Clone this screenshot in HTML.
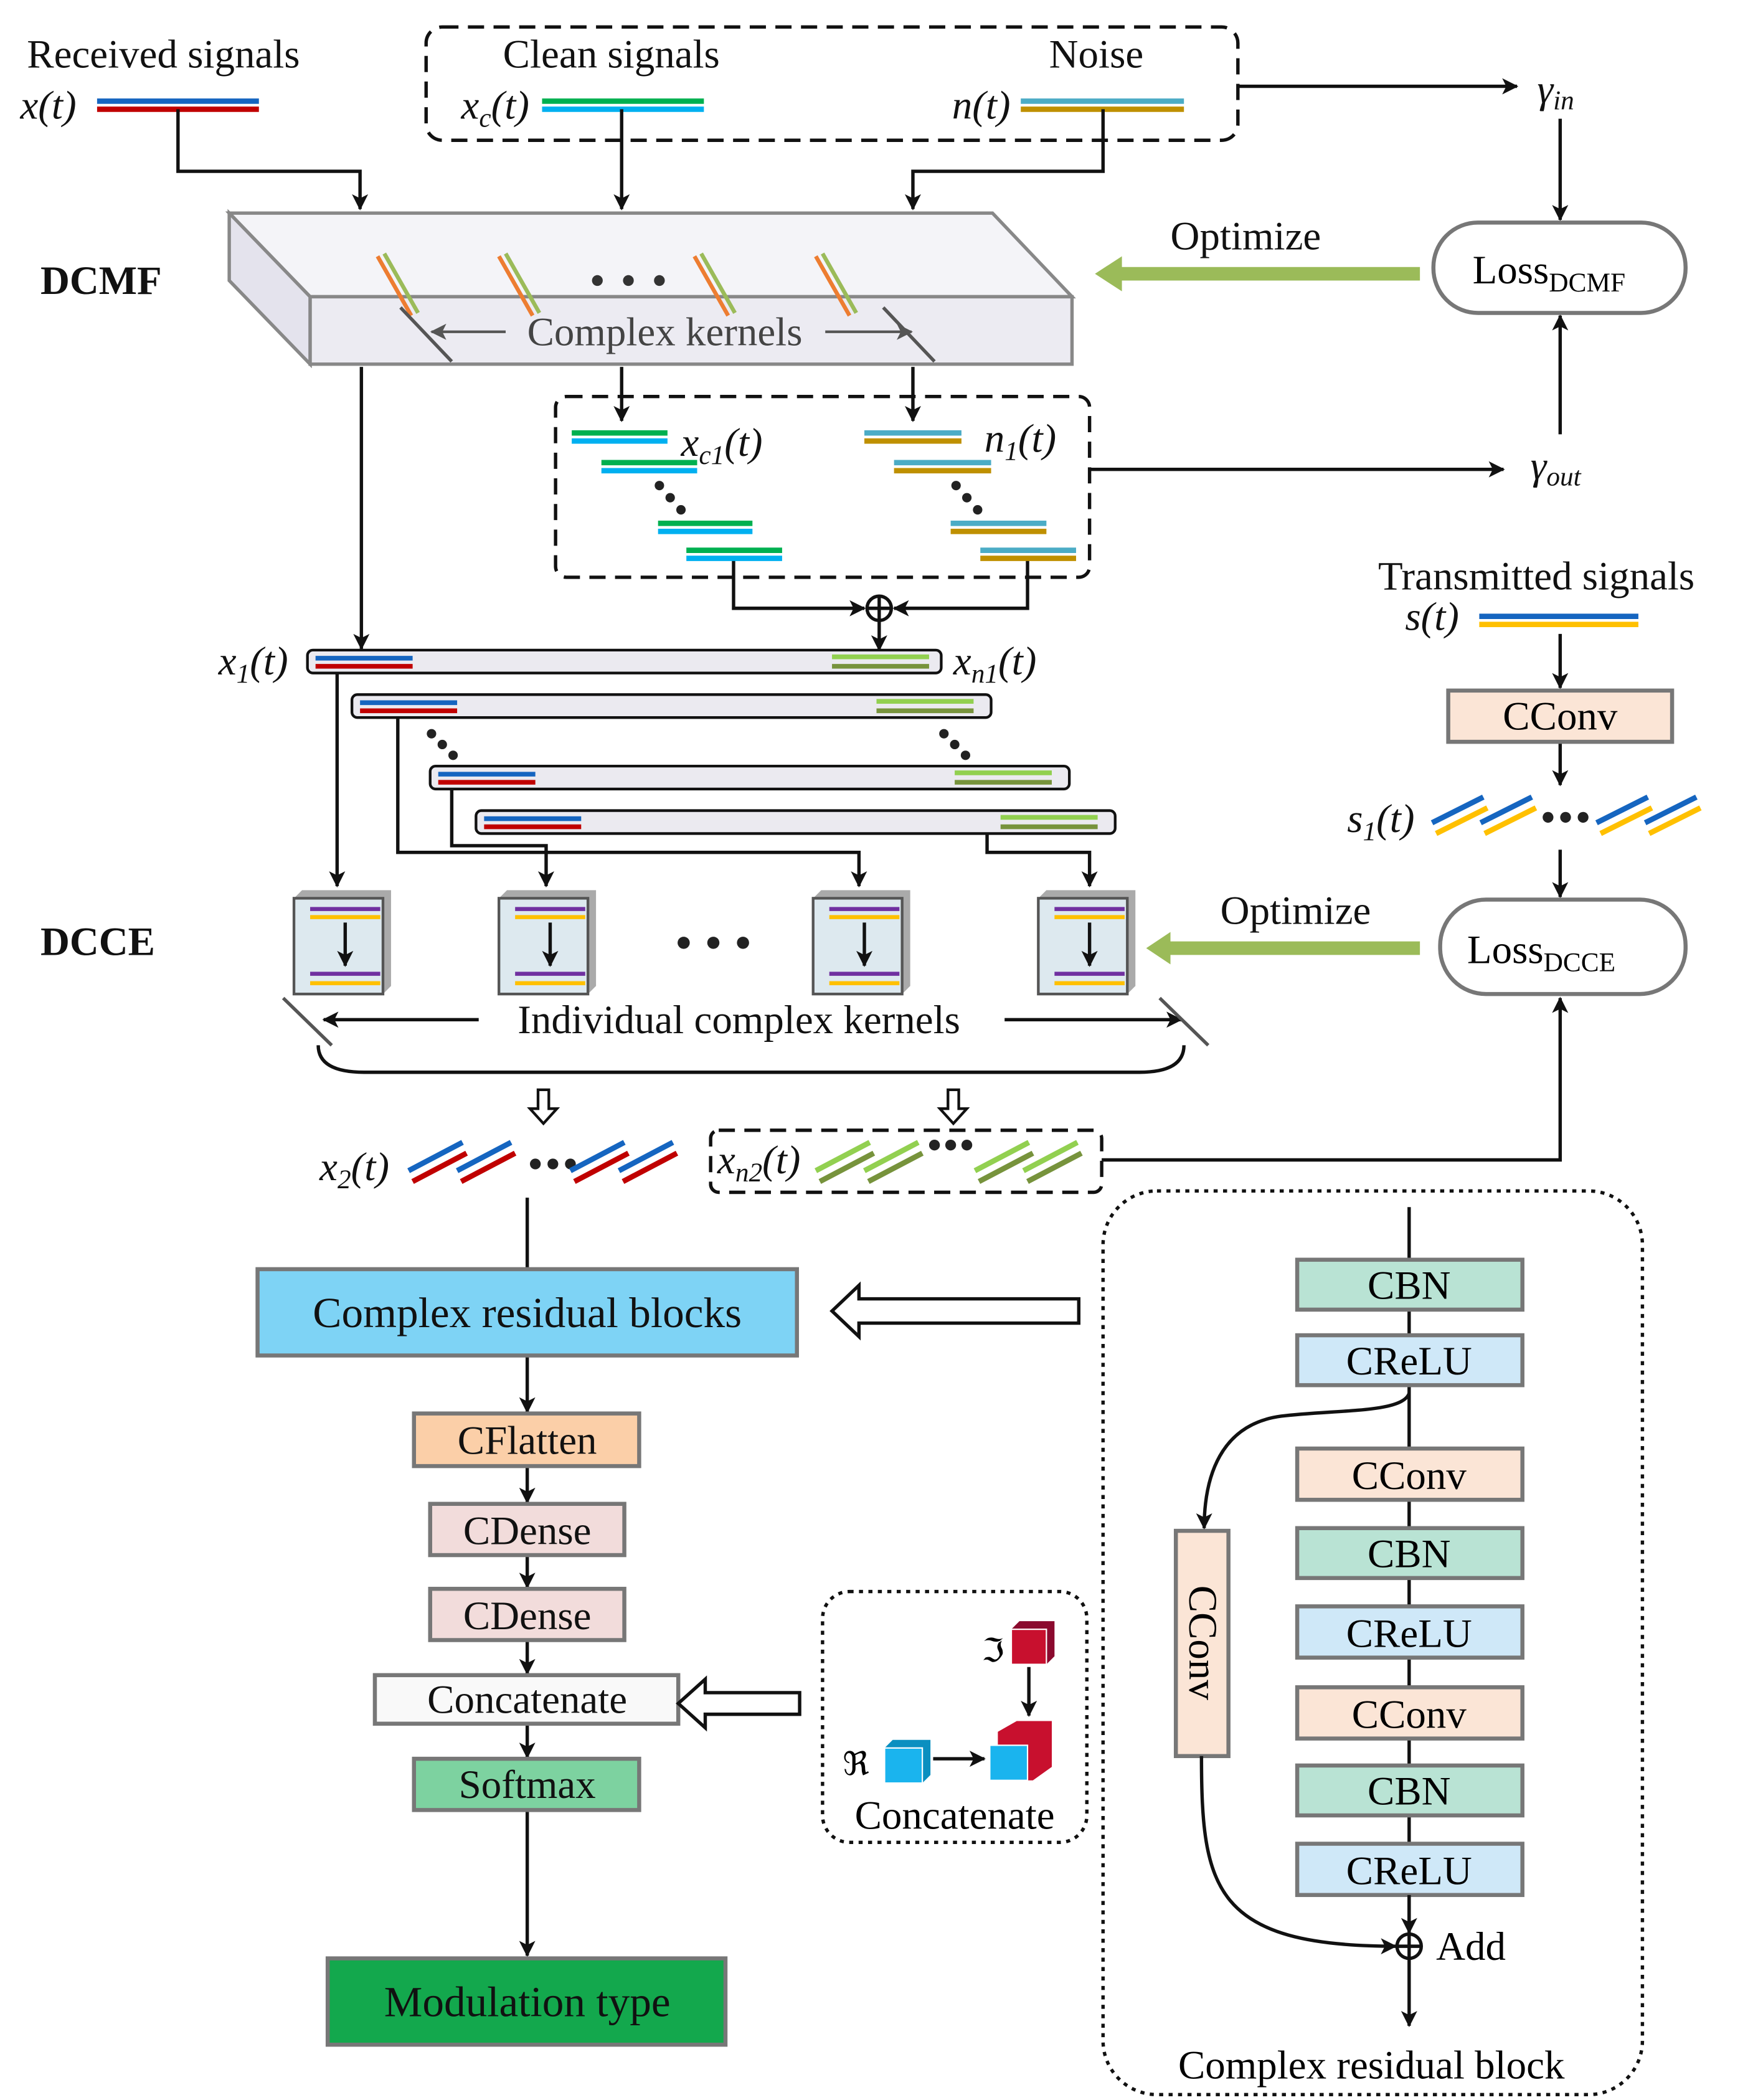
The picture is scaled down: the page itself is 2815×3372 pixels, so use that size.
<!DOCTYPE html>
<html><head><meta charset="utf-8"><style>html,body{margin:0;padding:0;background:#fff}svg{display:block}svg text{font-family:"Liberation Serif",serif}</style></head><body>
<svg xmlns="http://www.w3.org/2000/svg" width="2815" height="3372" viewBox="0 0 1300 1557" preserveAspectRatio="none" font-family="'Liberation Serif', serif">
<defs>
<marker id="a" markerWidth="12" markerHeight="12" refX="11" refY="6" orient="auto" markerUnits="userSpaceOnUse"><path d="M0,0 L12,6 L0,12 L3,6z" fill="#111"/></marker>
<marker id="g" markerWidth="12" markerHeight="12" refX="11" refY="6" orient="auto" markerUnits="userSpaceOnUse"><path d="M0,0 L12,6 L0,12 L3,6z" fill="#555"/></marker>
</defs>
<g font-size="30" fill="#111">
<text x="20" y="50">Received signals</text>
<text x="15" y="88" font-style="italic">x(t)</text>
<text x="373" y="50">Clean signals</text>
<text x="778" y="50">Noise</text>
<text x="342" y="88" font-style="italic">x<tspan font-size="20" dy="6">c</tspan><tspan dy="-6">(t)</tspan></text>
<text x="706" y="88" font-style="italic">n(t)</text>
<text x="30" y="218" font-weight="bold">DCMF</text>
<text x="30" y="708" font-weight="bold">DCCE</text>
<text x="868" y="185">Optimize</text>
<text x="905" y="685">Optimize</text>
<text x="1140" y="76" font-style="italic">γ<tspan font-size="20" dy="5">in</tspan></text>
<text x="1135" y="355" font-style="italic">γ<tspan font-size="20" dy="5">out</tspan></text>
<text x="1022" y="437">Transmitted signals</text>
<text x="1042" y="467" font-style="italic">s(t)</text>
<text x="999" y="617" font-style="italic">s<tspan font-size="20" dy="6">1</tspan><tspan dy="-6">(t)</tspan></text>
<text x="505" y="338" font-style="italic">x<tspan font-size="20" dy="6">c1</tspan><tspan dy="-6">(t)</tspan></text>
<text x="730" y="335" font-style="italic">n<tspan font-size="20" dy="6">1</tspan><tspan dy="-6">(t)</tspan></text>
<text x="162" y="500" font-style="italic">x<tspan font-size="20" dy="6">1</tspan><tspan dy="-6">(t)</tspan></text>
<text x="707" y="500" font-style="italic">x<tspan font-size="20" dy="6">n1</tspan><tspan dy="-6">(t)</tspan></text>
<text x="237" y="875" font-style="italic">x<tspan font-size="20" dy="6">2</tspan><tspan dy="-6">(t)</tspan></text>
<text x="532" y="870" font-style="italic">x<tspan font-size="20" dy="6">n2</tspan><tspan dy="-6">(t)</tspan></text>
</g>
<g stroke-width="4">
<line x1="72" y1="75" x2="192" y2="75" stroke="#1565c0"/><line x1="72" y1="81" x2="192" y2="81" stroke="#c00000"/>
<line x1="402" y1="75" x2="522" y2="75" stroke="#00b050"/><line x1="402" y1="81" x2="522" y2="81" stroke="#00b0f0"/>
<line x1="757" y1="75" x2="878" y2="75" stroke="#4bacc6"/><line x1="757" y1="81" x2="878" y2="81" stroke="#bf9000"/>
<line x1="1097" y1="457" x2="1215" y2="457" stroke="#1565c0"/><line x1="1097" y1="463" x2="1215" y2="463" stroke="#ffc000"/>
</g>
<rect x="316" y="20" width="602" height="84" rx="12" fill="none" stroke="#111" stroke-width="2.5" stroke-dasharray="12,7"/>
<g stroke="#111" stroke-width="2.5" fill="none" marker-end="url(#a)">
<polyline points="132,81 132,127 267,127 267,155"/>
<line x1="461" y1="81" x2="461" y2="155"/>
<polyline points="818,81 818,127 677,127 677,155"/>
<polyline points="918,64 1125,64"/>
<line x1="1157" y1="88" x2="1157" y2="163"/>
<line x1="1157" y1="322" x2="1157" y2="234"/>
<line x1="808" y1="348" x2="1115" y2="348"/>
<line x1="461" y1="272" x2="461" y2="312"/>
<line x1="677" y1="272" x2="677" y2="312"/>
<line x1="268" y1="272" x2="268" y2="481"/>
<polyline points="544,414 544,451 641,451"/>
<polyline points="762,414 762,451 663,451"/>
<line x1="652" y1="460" x2="652" y2="482"/>
<line x1="1157" y1="470" x2="1157" y2="510"/>
<line x1="1157" y1="550" x2="1157" y2="582"/>
<line x1="1157" y1="630" x2="1157" y2="665"/>
<polyline points="817,860 1157,860 1157,740"/>
<line x1="250" y1="499" x2="250" y2="657"/>
<polyline points="295,532 295,632 637,632 637,657"/>
<polyline points="335,585 335,627 405,627 405,657"/>
<polyline points="732,618 732,632 808,632 808,657"/>
<line x1="391" y1="1005" x2="391" y2="1047"/>
<line x1="391" y1="1087" x2="391" y2="1114"/>
<line x1="391" y1="1153" x2="391" y2="1177"/>
<line x1="391" y1="1216" x2="391" y2="1241"/>
<line x1="391" y1="1278" x2="391" y2="1303"/>
<line x1="391" y1="1342" x2="391" y2="1450"/>
</g>
<circle cx="652" cy="451" r="9" fill="#fff" stroke="#111" stroke-width="2.5"/>
<path d="M643,451h18M652,442v18" stroke="#111" stroke-width="2.5"/>
<line x1="391" y1="888" x2="391" y2="941" stroke="#111" stroke-width="2.5"/>
<rect x="1063" y="165" width="187" height="67" rx="33" fill="#fff" stroke="#777" stroke-width="3"/>
<text x="1092" y="210" font-size="30">Loss<tspan font-size="20" dy="6">DCMF</tspan></text>
<rect x="1068" y="667" width="182" height="70" rx="34" fill="#fff" stroke="#777" stroke-width="3"/>
<text x="1088" y="714" font-size="30">Loss<tspan font-size="20" dy="6">DCCE</tspan></text>
<g stroke="#9bbb59" stroke-width="10"><line x1="1053" y1="203" x2="830" y2="203"/><line x1="1053" y1="703" x2="866" y2="703"/></g>
<path d="M812,203 L832,190 L832,216z M850,703 L868,691 L868,715z" fill="#9bbb59"/>
<polygon points="170,158 736,158 795,220 230,220" fill="#f4f4f8" stroke="#888" stroke-width="2.5"/>
<polygon points="170,158 230,220 230,270 170,208" fill="#e4e3ed" stroke="#888" stroke-width="2.5"/>
<rect x="230" y="220" width="565" height="50" fill="#ecebf2" stroke="#888" stroke-width="2.5"/>
<g stroke-width="3">
<g transform="translate(280,190)"><line x1="0" y1="0" x2="25" y2="44" stroke="#ed7d31"/><line x1="5" y1="-2" x2="30" y2="42" stroke="#9bbb59"/></g>
<g transform="translate(370,190)"><line x1="0" y1="0" x2="25" y2="44" stroke="#ed7d31"/><line x1="5" y1="-2" x2="30" y2="42" stroke="#9bbb59"/></g>
<g transform="translate(515,190)"><line x1="0" y1="0" x2="25" y2="44" stroke="#ed7d31"/><line x1="5" y1="-2" x2="30" y2="42" stroke="#9bbb59"/></g>
<g transform="translate(605,190)"><line x1="0" y1="0" x2="25" y2="44" stroke="#ed7d31"/><line x1="5" y1="-2" x2="30" y2="42" stroke="#9bbb59"/></g>
</g>
<g fill="#333"><circle cx="443" cy="208" r="4"/><circle cx="466" cy="208" r="4"/><circle cx="489" cy="208" r="4"/></g>
<g stroke="#555" stroke-width="2.5"><line x1="297" y1="228" x2="335" y2="268"/><line x1="655" y1="228" x2="693" y2="268"/></g>
<g stroke="#555" stroke-width="2" marker-end="url(#g)"><line x1="375" y1="246" x2="320" y2="246"/><line x1="612" y1="246" x2="676" y2="246"/></g>
<text x="493" y="256" font-size="30" fill="#444" text-anchor="middle">Complex kernels</text>
<rect x="412" y="294" width="396" height="134" rx="8" fill="none" stroke="#111" stroke-width="2.5" stroke-dasharray="12,7"/>
<g stroke-width="4">
<line x1="424" y1="321" x2="495" y2="321" stroke="#00b050"/><line x1="424" y1="327" x2="495" y2="327" stroke="#00b0f0"/>
<line x1="446" y1="343" x2="517" y2="343" stroke="#00b050"/><line x1="446" y1="349" x2="517" y2="349" stroke="#00b0f0"/>
<line x1="488" y1="388" x2="558" y2="388" stroke="#00b050"/><line x1="488" y1="394" x2="558" y2="394" stroke="#00b0f0"/>
<line x1="509" y1="408" x2="580" y2="408" stroke="#00b050"/><line x1="509" y1="414" x2="580" y2="414" stroke="#00b0f0"/>
<line x1="641" y1="321" x2="713" y2="321" stroke="#4bacc6"/><line x1="641" y1="327" x2="713" y2="327" stroke="#bf9000"/>
<line x1="663" y1="343" x2="735" y2="343" stroke="#4bacc6"/><line x1="663" y1="349" x2="735" y2="349" stroke="#bf9000"/>
<line x1="705" y1="388" x2="776" y2="388" stroke="#4bacc6"/><line x1="705" y1="394" x2="776" y2="394" stroke="#bf9000"/>
<line x1="727" y1="408" x2="798" y2="408" stroke="#4bacc6"/><line x1="727" y1="414" x2="798" y2="414" stroke="#bf9000"/>
</g>
<g fill="#222"><circle cx="489" cy="360" r="3.5"/><circle cx="497" cy="369" r="3.5"/><circle cx="505" cy="378" r="3.5"/>
<circle cx="709" cy="360" r="3.5"/><circle cx="717" cy="369" r="3.5"/><circle cx="725" cy="378" r="3.5"/>
<circle cx="320" cy="544" r="3.5"/><circle cx="328" cy="552" r="3.5"/><circle cx="336" cy="560" r="3.5"/>
<circle cx="700" cy="544" r="3.5"/><circle cx="708" cy="552" r="3.5"/><circle cx="716" cy="560" r="3.5"/></g>
<g fill="#ebeaf0" stroke="#111" stroke-width="2">
<rect x="228" y="482" width="470" height="17" rx="4"/>
<rect x="261" y="515" width="474" height="17" rx="4"/>
<rect x="319" y="568" width="474" height="17" rx="4"/>
<rect x="353" y="601" width="474" height="17" rx="4"/>
</g>
<g stroke-width="3.5">
<line x1="234" y1="488" x2="306" y2="488" stroke="#1565c0"/><line x1="234" y1="494" x2="306" y2="494" stroke="#c00000"/>
<line x1="617" y1="487" x2="689" y2="487" stroke="#92d050"/><line x1="617" y1="494" x2="689" y2="494" stroke="#77933c"/>
<line x1="267" y1="521" x2="339" y2="521" stroke="#1565c0"/><line x1="267" y1="527" x2="339" y2="527" stroke="#c00000"/>
<line x1="650" y1="520" x2="722" y2="520" stroke="#92d050"/><line x1="650" y1="527" x2="722" y2="527" stroke="#77933c"/>
<line x1="325" y1="574" x2="397" y2="574" stroke="#1565c0"/><line x1="325" y1="580" x2="397" y2="580" stroke="#c00000"/>
<line x1="708" y1="573" x2="780" y2="573" stroke="#92d050"/><line x1="708" y1="580" x2="780" y2="580" stroke="#77933c"/>
<line x1="359" y1="607" x2="431" y2="607" stroke="#1565c0"/><line x1="359" y1="613" x2="431" y2="613" stroke="#c00000"/>
<line x1="742" y1="606" x2="814" y2="606" stroke="#92d050"/><line x1="742" y1="613" x2="814" y2="613" stroke="#77933c"/>
</g>
<g id="k">
<polygon points="218,666 224,660 290,660 290,731 284,737 218,737" fill="#aaa"/>
<rect x="218" y="666" width="66" height="71" fill="#dde9ef" stroke="#555" stroke-width="2"/>
<line x1="230" y1="674" x2="282" y2="674" stroke="#7030a0" stroke-width="3"/><line x1="230" y1="680" x2="282" y2="680" stroke="#ffc000" stroke-width="3"/>
<line x1="230" y1="722" x2="282" y2="722" stroke="#7030a0" stroke-width="3"/><line x1="230" y1="729" x2="282" y2="729" stroke="#ffc000" stroke-width="3"/>
<line x1="256" y1="684" x2="256" y2="716" stroke="#111" stroke-width="2.5" marker-end="url(#a)"/>
</g>
<use href="#k" x="152"/><use href="#k" x="385"/><use href="#k" x="552"/>
<g fill="#222"><circle cx="507" cy="699" r="4.5"/><circle cx="529" cy="699" r="4.5"/><circle cx="551" cy="699" r="4.5"/>
<circle cx="397" cy="863" r="4"/><circle cx="410" cy="863" r="4"/><circle cx="423" cy="863" r="4"/>
<circle cx="693" cy="849" r="4"/><circle cx="705" cy="849" r="4"/><circle cx="717" cy="849" r="4"/>
<circle cx="1148" cy="606" r="4"/><circle cx="1161" cy="606" r="4"/><circle cx="1174" cy="606" r="4"/></g>
<text x="548" y="766" font-size="30" text-anchor="middle" fill="#111">Individual complex kernels</text>
<g stroke="#111" stroke-width="2.5" marker-end="url(#a)"><line x1="355" y1="756" x2="240" y2="756"/><line x1="745" y1="756" x2="876" y2="756"/></g>
<g stroke="#555" stroke-width="2.5"><line x1="210" y1="740" x2="246" y2="775"/><line x1="860" y1="740" x2="896" y2="775"/></g>
<path d="M236,775 Q236,795 270,795 L845,795 Q878,795 878,775" fill="none" stroke="#111" stroke-width="2.5"/>
<g fill="#fff" stroke="#111" stroke-width="2"><path d="M399,808 h8 v14 h6 l-10,11 l-10,-11 h6z"/><path d="M703,808 h8 v14 h6 l-10,11 l-10,-11 h6z"/></g>
<rect x="527" y="838" width="290" height="46" rx="6" fill="none" stroke="#111" stroke-width="2.5" stroke-dasharray="12,7"/>
<g stroke-width="4">
<g id="bp"><line x1="303" y1="868" x2="343" y2="847" stroke="#1565c0"/><line x1="306" y1="876" x2="346" y2="855" stroke="#c00000"/></g>
<use href="#bp" x="36"/><use href="#bp" x="120"/><use href="#bp" x="156"/>
<g id="gp"><line x1="605" y1="868" x2="645" y2="847" stroke="#92d050"/><line x1="608" y1="876" x2="648" y2="855" stroke="#77933c"/></g>
<use href="#gp" x="36"/><use href="#gp" x="118"/><use href="#gp" x="154"/>
<g id="yp"><line x1="1062" y1="610" x2="1100" y2="591" stroke="#1565c0"/><line x1="1065" y1="618" x2="1103" y2="599" stroke="#ffc000"/></g>
<use href="#yp" x="36"/><use href="#yp" x="122"/><use href="#yp" x="158"/>
</g>
<rect x="1074" y="512" width="166" height="38" fill="#fbe5d6" stroke="#777" stroke-width="3"/>
<text x="1157" y="541" font-size="30" text-anchor="middle">CConv</text>
<g stroke="#777" stroke-width="3" font-size="30">
<rect x="191" y="941" width="400" height="64" fill="#7ed3f5"/>
<rect x="307" y="1048" width="167" height="39" fill="#fbcfa8"/>
<rect x="319" y="1115" width="144" height="38" fill="#f2dcdb"/>
<rect x="319" y="1178" width="144" height="38" fill="#f2dcdb"/>
<rect x="278" y="1242" width="225" height="36" fill="#f9f9f9"/>
<rect x="307" y="1304" width="167" height="38" fill="#7dd2a0"/>
<rect x="243" y="1452" width="295" height="64" fill="#13a84d"/>
</g>
<g font-size="30" text-anchor="middle" fill="#111">
<text x="391" y="984" font-size="32">Complex residual blocks</text>
<text x="391" y="1078">CFlatten</text>
<text x="391" y="1145">CDense</text>
<text x="391" y="1208">CDense</text>
<text x="391" y="1270">Concatenate</text>
<text x="391" y="1333">Softmax</text>
<text x="391" y="1495" font-size="32">Modulation type</text>
</g>
<path d="M800,963 H637 V953 L617,972 L637,991 V981 H800z" fill="#fff" stroke="#111" stroke-width="2.5"/>
<path d="M593,1255 H523 V1245 L503,1263 L523,1281 V1271 H593z" fill="#fff" stroke="#111" stroke-width="2.5"/>
<rect x="610" y="1180" width="196" height="186" rx="20" fill="none" stroke="#111" stroke-width="2.5" stroke-dasharray="3,4"/>
<text x="708" y="1356" font-size="30" text-anchor="middle">Concatenate</text>
<text x="728" y="1232" font-size="24">ℑ</text>
<g><polygon points="750,1208 756,1202 782,1202 782,1228 776,1234 750,1234" fill="#8b0a2e"/><rect x="750" y="1208" width="26" height="26" fill="#c8102e" stroke="#fff" stroke-width="1"/></g>
<line x1="763" y1="1236" x2="763" y2="1272" stroke="#111" stroke-width="2.5" marker-end="url(#a)"/>
<text x="625" y="1316" font-size="24">ℜ</text>
<g><polygon points="656,1296 662,1290 690,1290 690,1316 684,1322 656,1322" fill="#0a8fc0"/><rect x="656" y="1296" width="28" height="26" fill="#1ab4ee" stroke="#fff" stroke-width="1"/></g>
<line x1="692" y1="1304" x2="730" y2="1304" stroke="#111" stroke-width="2.5" marker-end="url(#a)"/>
<g><polygon points="740,1284 754,1276 780,1276 780,1310 766,1320 740,1320" fill="#c8102e"/><rect x="734" y="1294" width="28" height="26" fill="#1ab4ee" stroke="#fff" stroke-width="1"/></g>
<rect x="818" y="883" width="400" height="670" rx="40" fill="none" stroke="#111" stroke-width="2.5" stroke-dasharray="3,4"/>
<line x1="1045" y1="895" x2="1045" y2="1432" stroke="#111" stroke-width="2.5"/>
<g stroke="#777" stroke-width="3">
<rect x="962" y="934" width="167" height="37" fill="#b9e3d4"/>
<rect x="962" y="990" width="167" height="37" fill="#cfe8f8"/>
<rect x="962" y="1074" width="167" height="38" fill="#fbe5d6"/>
<rect x="962" y="1133" width="167" height="37" fill="#b9e3d4"/>
<rect x="962" y="1191" width="167" height="38" fill="#cfe8f8"/>
<rect x="962" y="1251" width="167" height="38" fill="#fbe5d6"/>
<rect x="962" y="1309" width="167" height="37" fill="#b9e3d4"/>
<rect x="962" y="1367" width="167" height="38" fill="#cfe8f8"/>
<rect x="872" y="1135" width="39" height="167" fill="#fbe5d6"/>
</g>
<g font-size="30" text-anchor="middle">
<text x="1045" y="963">CBN</text><text x="1045" y="1019">CReLU</text><text x="1045" y="1104">CConv</text>
<text x="1045" y="1162">CBN</text><text x="1045" y="1221">CReLU</text><text x="1045" y="1281">CConv</text>
<text x="1045" y="1338">CBN</text><text x="1045" y="1397">CReLU</text>
<text x="1017" y="1541">Complex residual block</text>
</g>
<text x="882" y="1218" font-size="30" transform="rotate(90 882 1218)" text-anchor="middle">CConv</text>
<path d="M1045,1033 C1040,1048 990,1045 950,1050 C905,1056 893,1095 893,1133" fill="none" stroke="#111" stroke-width="2.5" marker-end="url(#a)"/>
<path d="M891,1302 C891,1400 900,1443 1035,1443" fill="none" stroke="#111" stroke-width="2.5" marker-end="url(#a)"/>
<line x1="1045" y1="1405" x2="1045" y2="1433" stroke="#111" stroke-width="2.5" marker-end="url(#a)"/>
<circle cx="1045" cy="1443" r="9" fill="#fff" stroke="#111" stroke-width="2.5"/>
<path d="M1036,1443h18M1045,1434v18" stroke="#111" stroke-width="2.5"/>
<line x1="1045" y1="1452" x2="1045" y2="1502" stroke="#111" stroke-width="2.5" marker-end="url(#a)"/>
<text x="1065" y="1453" font-size="30">Add</text>
</svg>
</body></html>
